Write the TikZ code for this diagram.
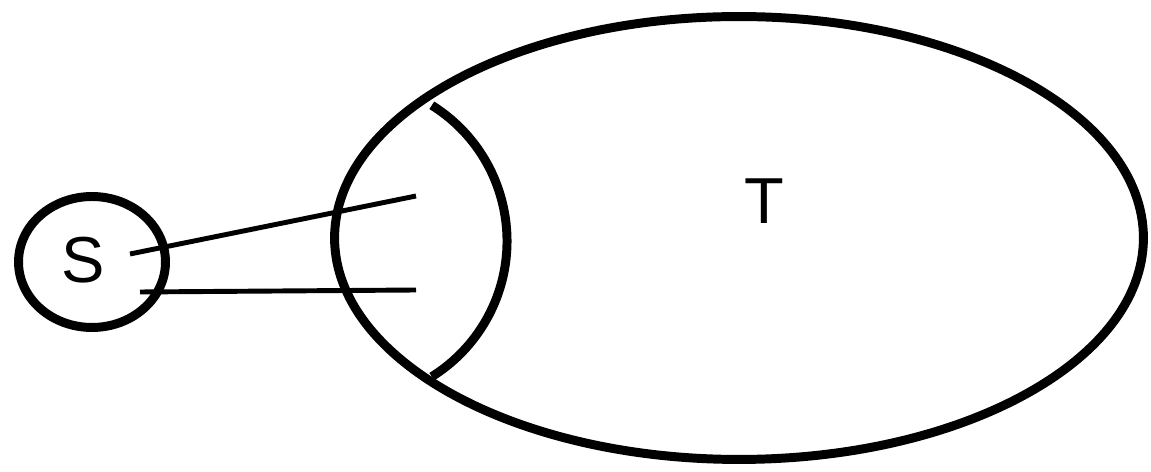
\documentclass[tikz,border=0pt]{standalone}
\usepackage{fontspec}
\setmainfont{Liberation Sans}
\usetikzlibrary{shapes.geometric}

\begin{document}
\begin{tikzpicture}[x=0.02cm,y=0.02cm,
    rim/.style={draw, ellipse, line width=5.1pt, inner sep=0pt},
    wire/.style={line width=2.8pt},
    tag/.style={font=\fontsize{37}{40}\selectfont}]
    \useasboundingbox (0,0) rectangle (1151,472);
    \node[rim, minimum width=2.94cm, minimum height=2.62cm] (S) at (92,210) {};
    \node[rim, minimum width=16.18cm, minimum height=8.86cm] (T) at (739,234) {};
    \node[tag] (Slab) at (83,212) {S};
    \node[tag] (Tlab) at (764,271) {T};
        \draw [line width=5.1pt] (347,231) ++(58:160) arc[start angle=58, end angle=-58, radius=160];
        \coordinate (a1) at (130,218);
        \coordinate (b1) at (416,276);
        \coordinate (a2) at (140,180);
        \coordinate (b2) at (416,182);
        \draw [wire] (a1) -- (b1);
        \draw [wire] (a2) -- (b2);
  \end{tikzpicture}
\end{document}
